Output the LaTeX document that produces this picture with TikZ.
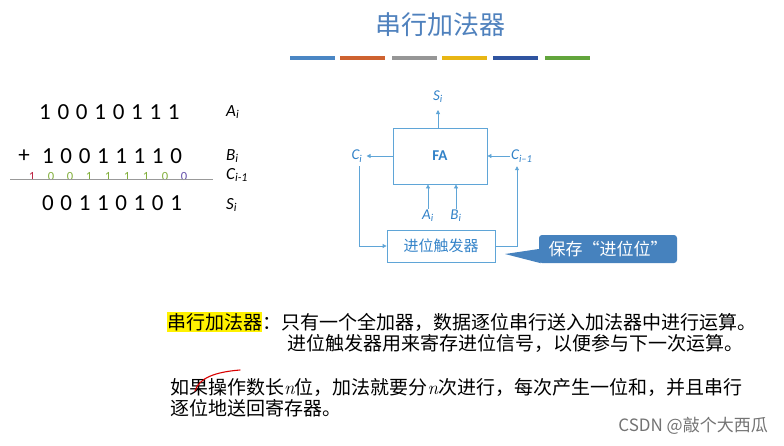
\documentclass[tikz,border=0pt]{standalone}
\usepackage{fontspec}
\newfontfamily\cjk{Noto Sans CJK SC}
\newfontfamily\carl{Carlito}
\usetikzlibrary{arrows.meta,calc}
\definecolor{tblue}{RGB}{79,129,189}
\definecolor{bA}{RGB}{74,134,196}
\definecolor{bB}{RGB}{206,98,48}
\definecolor{bC}{RGB}{150,150,150}
\definecolor{bD}{RGB}{232,182,20}
\definecolor{bE}{RGB}{47,84,160}
\definecolor{bF}{RGB}{98,165,60}
\definecolor{dblue}{RGB}{50,130,200}
\definecolor{lblue}{RGB}{95,165,215}
\definecolor{cblue}{RGB}{70,130,190}
\definecolor{cred}{RGB}{190,40,70}
\definecolor{cgreen}{RGB}{130,175,60}
\definecolor{cpurple}{RGB}{100,80,170}
\begin{document}
\begin{tikzpicture}[x=1pt,y=-1pt,
  cjktext/.style={font=\cjk\fontsize{19}{22}\selectfont, inner sep=0pt, anchor=west},
  lab/.style={font=\carl\itshape\fontsize{15}{16}\selectfont, text=dblue, inner sep=1pt},
  llab/.style={font=\carl\itshape\fontsize{17}{18}\selectfont, text=black, inner sep=0pt, anchor=west},
  dig/.style={font=\carl\fontsize{23}{24}\selectfont, inner sep=0pt},
  cdig/.style={font=\carl\fontsize{12.5}{13}\selectfont, inner sep=0pt, anchor=base},
  arr/.style={draw=lblue, line width=0.8pt, -{Triangle[length=4pt,width=4pt]}},
  bar/.style={line width=4pt},
  boxst/.style={draw=lblue, line width=0.8pt, rectangle, inner sep=0pt}]
\path[use as bounding box] (0,0) rectangle (784,445);
% title
\node[font=\cjk\fontsize{26}{28}\selectfont, text=tblue] (title) at (440,25) {串行加法器};
\foreach \x/\c in {290/bA,340/bB,392/bC,442/bD,493/bE,545/bF}
  \draw[bar,\c] (\x,57.5) -- ++(45,0);
% left arithmetic
\foreach \d [count=\k from 0] in {1,0,0,1,0,1,1,1}
  \node[dig] (a\k) at (45+18.4*\k,112) {\d};
\node[dig] (plus) at (24,156) {+};
\foreach \d [count=\k from 0] in {1,0,0,1,1,1,1,0}
  \node[dig] (b\k) at (48+18.3*\k,156) {\d};
\foreach \d/\c [count=\k from 0] in {1/cred,0/cgreen,0/cgreen,1/cgreen,1/cgreen,1/cgreen,1/cgreen,0/cgreen,0/cpurple}
  \node[cdig,text=\c] (c\k) at (32+19*\k,180) {\d};
\draw[black!40, line width=0.8pt] (10,179.5) -- (213,179.5);
\foreach \d [count=\k from 0] in {0,0,1,1,0,1,0,1}
  \node[dig] (s\k) at (48+18.3*\k,203) {\d};
\node[llab] (la) at (226,112) {A\textsubscript{i}};
\node[llab] (lb) at (226,156) {B\textsubscript{i}};
\node[llab] (lc) at (226,175) {C\textsubscript{i-1}};
\node[llab] (ls) at (226,205) {S\textsubscript{i}};
% full adder diagram
\node[boxst, minimum width=94pt, minimum height=56pt, font=\carl\bfseries\fontsize{15}{16}\selectfont, text=dblue] (fa) at (440,156) {FA};
\node[lab] (si) at (438,97) {S\textsubscript{i}};
\coordinate (sitip) at (438,110);
\draw[arr] (fa.north -| sitip) -- (sitip);
\node[lab] (ci) at (357,156) {C\textsubscript{i}};
\draw[arr, shorten >=3pt] (fa.west) -- (ci.east);
\node[lab, anchor=west] (cim) at (510,156) {C\textsubscript{i–1}};
\draw[arr] (cim.west) -- (fa.east);
\node[lab] (ai) at (428,216) {A\textsubscript{i}};
\node[lab] (bi) at (456,216) {B\textsubscript{i}};
\draw[arr] (ai.north) -- (ai.north |- fa.south);
\draw[arr] (bi.north) -- (bi.north |- fa.south);
\node[boxst, minimum width=108pt, minimum height=32pt, font=\cjk\fontsize{15}{16}\selectfont, text=dblue] (ff) at (441,246) {进位触发器};
\draw[arr] ($(ci.south)+(2,3)$) |- (ff.west);
\draw[arr] (ff.east) -| ($(cim.south west)+(7,3)$);
% callout
\node[fill=cblue, rounded corners=3pt, text=white, font=\cjk\fontsize{17}{18}\selectfont, minimum width=138pt, minimum height=28pt, inner sep=0pt] (callout) at (608,249) {保存“进位位”};
\coordinate (tip) at (505,254);
\fill[cblue] (callout.west) -- (tip) -- ($(callout.south west)+(2,0)$) -- cycle;
% text
\node[cjktext, fill=yellow, minimum height=20pt] (hl) at (167,322) {串行加法器};
\node[cjktext] (l1) at (hl.east) {：只有一个全加器，数据逐位串行送入加法器中进行运算。};
\node[cjktext] (l2) at (287,343) {进位触发器用来寄存进位信号，以便参与下一次运算。};
\node[cjktext] (l3) at (170,387) {如果操作数长{\rmfamily\itshape n}位，加法就要分{\rmfamily\itshape n}次进行，每次产生一位和，并且串行};
\node[cjktext] (l4) at (170,408) {逐位地送回寄存器。};
\draw[red!85!black, line width=1.1pt, line cap=round] (195,391) .. controls (199,378) and (215,372) .. (240,370);
% watermark
\node[font=\cjk\fontsize{17}{18}\selectfont, text=black!55, anchor=east, inner sep=0pt] (wm) at (768,426) {CSDN @敲个大西瓜};
\end{tikzpicture}
\end{document}
